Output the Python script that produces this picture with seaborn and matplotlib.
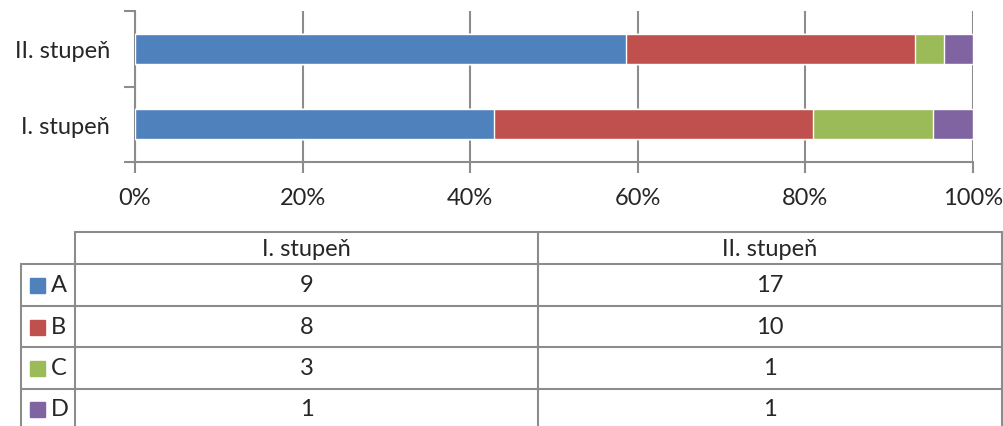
import pandas as pd
import matplotlib.pyplot as plt
import seaborn as sns

groups = ['I. stupeň', 'II. stupeň']
series = ['A', 'B', 'C', 'D']
a_vals = [9, 17]
b_vals = [8, 10]
c_vals = [3, 1]
d_vals = [1, 1]
colors = {'A': '#4F81BD', 'B': '#C0504D', 'C': '#9BBB59', 'D': '#8064A2'}
x_ticks = [0, 20, 40, 60, 80, 100]

sns.set_theme(style='white')
plt.rcParams['font.family'] = ['Lato', 'DejaVu Sans']
gray = '#8c8c8c'
fs = 17

df = pd.DataFrame({'group': groups, 'A': a_vals, 'B': b_vals, 'C': c_vals, 'D': d_vals})
total = df[series].sum(axis=1)
# cumulative shares, drawn back to front so each stack piece shows
cum = df[series].cumsum(axis=1).div(total, axis=0) * 100
cum['group'] = df['group']

W, H = 1004, 427
fig = plt.figure(figsize=(W / 100, H / 100), dpi=100)

# bar area in pixel coordinates
x0, x1, y0, y1 = 135, 973, 12, 163
ax = fig.add_axes([x0 / W, 1 - y1 / H, (x1 - x0) / W, (y1 - y0) / H])
order = ['II. stupeň', 'I. stupeň']
for s in reversed(series):
    sns.barplot(data=cum, x=s, y='group', order=order, orient='h',
                color=colors[s], width=0.4, saturation=1, ax=ax, zorder=3)

ax.set_xlim(0, 100)
ax.set_ylim(1.5, -0.5)
ax.set_xticks(x_ticks)
ax.set_xticklabels([f'{t}%' for t in x_ticks], fontsize=fs)
ax.set_yticks([-0.5, 0.5, 1.5], minor=False)
ax.set_yticklabels([])
ax.set_yticks([0, 1], minor=True)
ax.set_yticklabels(order, minor=True, fontsize=fs)
ax.tick_params(axis='y', which='minor', length=0, pad=18)
ax.tick_params(axis='y', which='major', length=8, color=gray, width=1.5, left=True)
ax.tick_params(axis='x', length=8, color=gray, width=1.5, bottom=True, pad=10)
ax.set_xlabel('')
ax.set_ylabel('')
ax.xaxis.grid(True, color=gray, linewidth=1.5, zorder=0)
ax.set_axisbelow(True)
for side in ['top', 'right']:
    ax.spines[side].set_visible(False)
for side in ['left', 'bottom']:
    ax.spines[side].set_color(gray)
    ax.spines[side].set_linewidth(1.5)

# data table below
tax = fig.add_axes([0, 0, 1, 1])
tax.set_xlim(0, W)
tax.set_ylim(H, 0)
tax.axis('off')
lw = 1.5
col_x = [21, 75, 538, 1002]
row_y = [233, 265, 307, 348, 390, 429]
tax.plot([75, 1002], [233, 233], color=gray, lw=lw)
for y in row_y[1:-1]:
    tax.plot([21, 1002], [y, y], color=gray, lw=lw)
tax.plot([21, 21], [265, 440], color=gray, lw=lw)
for x in col_x[1:]:
    tax.plot([x, x], [233, 440], color=gray, lw=lw)

for j, g in enumerate(groups):
    cx = (col_x[j + 1] + col_x[j + 2]) / 2
    tax.text(cx, (row_y[0] + row_y[1]) / 2, g, ha='center', va='center', fontsize=fs)
    for i, s in enumerate(series):
        cy = (row_y[i + 1] + row_y[i + 2]) / 2
        tax.text(cx, cy, str(df.loc[j, s]), ha='center', va='center', fontsize=fs)

for i, s in enumerate(series):
    cy = (row_y[i + 1] + row_y[i + 2]) / 2
    tax.add_patch(plt.Rectangle((30, cy - 7), 15, 15, color=colors[s]))
    tax.text(51, cy, s, ha='left', va='center', fontsize=fs)

fig.savefig('out.png', dpi=100)
